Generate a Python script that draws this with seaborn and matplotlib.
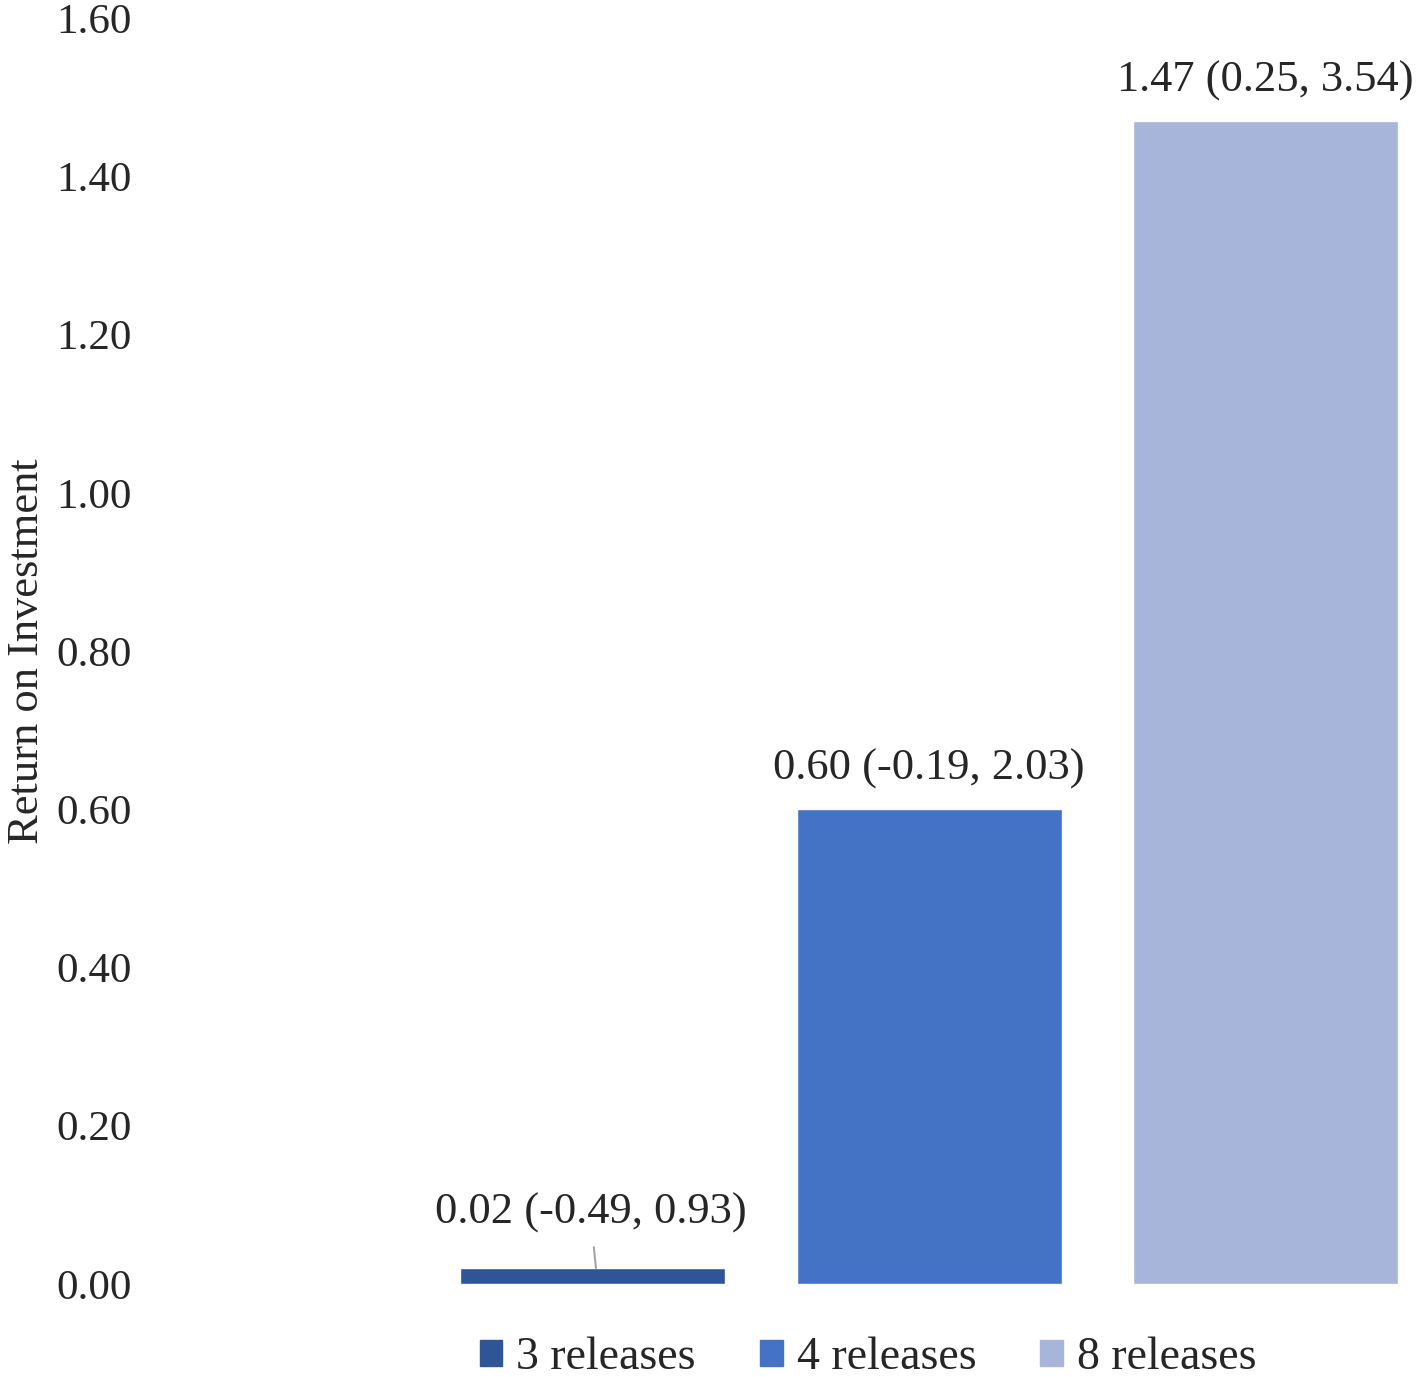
import matplotlib
matplotlib.use("Agg")
import matplotlib.pyplot as plt
import seaborn as sns
import pandas as pd

groups = ['3 releases', '4 releases', '8 releases']
roi = [0.02, 0.60, 1.47]
ci_low = [-0.49, -0.19, 0.25]
ci_high = [0.93, 2.03, 3.54]
colors = ['#2F5597', '#4472C4', '#A7B5DA']
yticks = [0.0, 0.2, 0.4, 0.6, 0.8, 1.0, 1.2, 1.4, 1.6]

sns.set_theme(style='white')
plt.rcParams['font.family'] = ['Liberation Serif', 'DejaVu Serif']
plt.rcParams['text.color'] = '#262626'

df = pd.DataFrame({'group': groups, 'roi': roi})

fig = plt.figure(figsize=(14.18, 13.77), dpi=100)
ax = fig.add_axes([140 / 1418, 1 - 1284 / 1377, 1 - 140 / 1418, (1284 - 18) / 1377])

sns.barplot(data=df, x='group', y='roi', hue='group', palette=colors,
            width=0.7875, saturation=1, legend=False, ax=ax)

ax.set_ylim(0, 1.6)
ax.set_xlim(-1.345, 2.453)
ax.set_yticks(yticks)
ax.set_yticklabels(['%.2f' % t for t in yticks], fontsize=31, color='#262626')
ax.set_xticks([])
ax.set_xlabel('')
ax.set_ylabel('Return on Investment', fontsize=32, color='#262626')
ax.yaxis.set_label_coords(-0.073, 0.5)
ax.tick_params(axis='y', length=0, pad=6)
sns.despine(ax=ax, left=True, bottom=True)

for i in range(len(groups)):
    label = '%.2f (%.2f, %.2f)' % (roi[i], ci_low[i], ci_high[i])
    if i == 0:
        ax.annotate(label, xy=(i + 0.01, roi[i]), xytext=(-4, 40),
                    textcoords='offset points', ha='center', va='center',
                    fontsize=32, color='#262626',
                    arrowprops=dict(arrowstyle='-', color='#a6a6a6', lw=1.5,
                                    shrinkA=8, shrinkB=0))
    else:
        ax.annotate(label, xy=(i, roi[i]), xytext=(0, 29),
                    textcoords='offset points', ha='center', va='center',
                    fontsize=32, color='#262626')

handles = [plt.Rectangle((0, 0), 1, 1, color=c) for c in colors]
fig.legend(handles, groups, loc='center', bbox_to_anchor=(868 / 1418, 1 - 1358 / 1377),
           ncol=3, frameon=False, fontsize=33, handlelength=0.5, handleheight=0.5,
           handletextpad=0.3, columnspacing=1.4)

fig.savefig('out.png', dpi=100)
